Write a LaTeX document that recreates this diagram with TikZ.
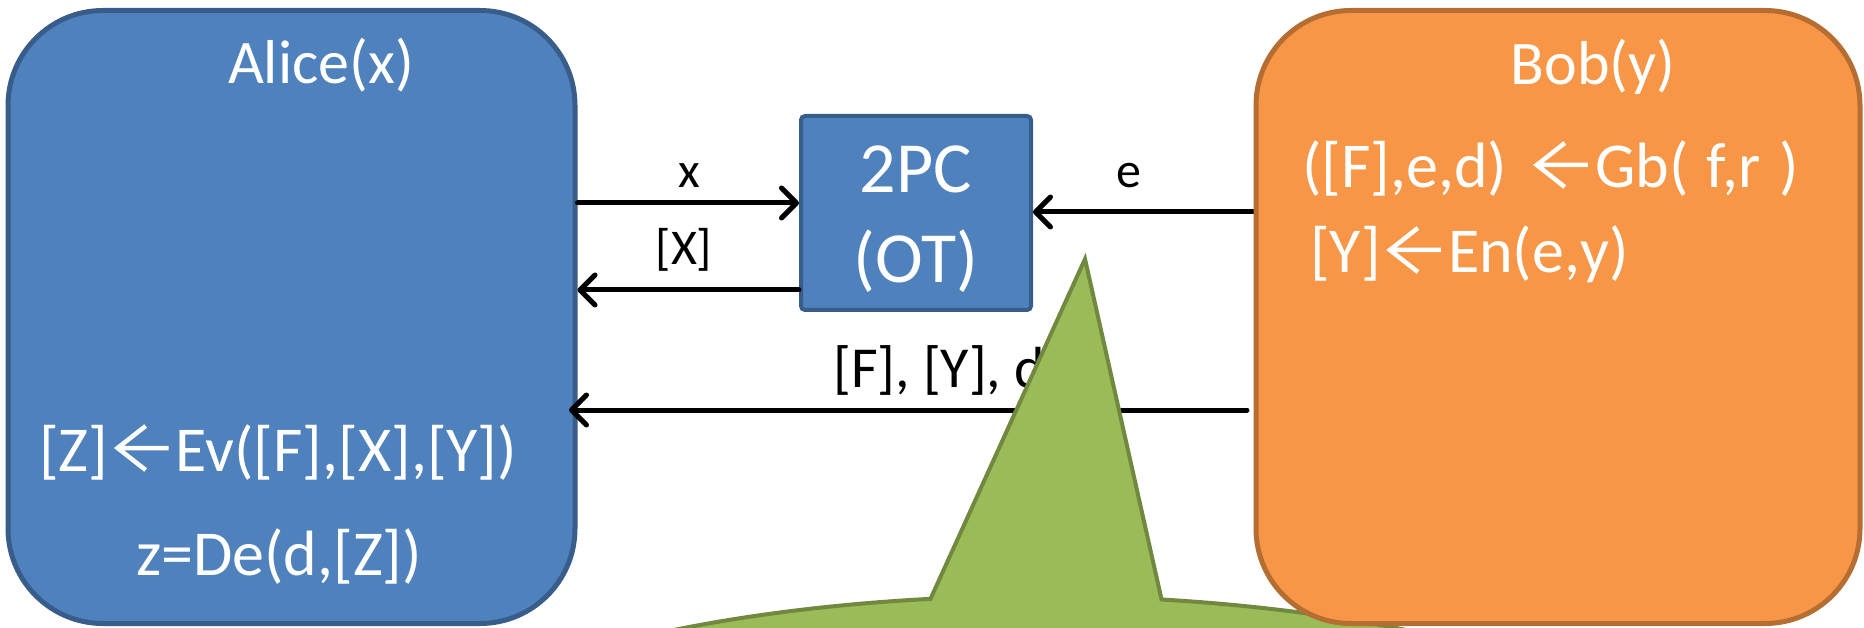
\documentclass[tikz,border=0pt]{standalone}
\usepackage{fontspec}
\setmainfont{Carlito}
\usetikzlibrary{arrows.meta}
\definecolor{cBlue}{HTML}{4F81BD}
\definecolor{cBlueD}{HTML}{385D8A}
\definecolor{cOrange}{HTML}{F79646}
\definecolor{cOrangeD}{HTML}{B66D31}
\definecolor{cGreen}{HTML}{9BBB59}
\definecolor{cGreenD}{HTML}{71893F}
\newcommand\myarrow{\hspace{7pt}\tikz[baseline=0pt,x=1pt,y=1pt]{\draw[white,line width=4.5pt,line cap=butt,line join=miter] (28,45)--(0,23)--(28,1) (1,23)--(51,23);}\hspace{5pt}}
\begin{document}
\begin{tikzpicture}[x=1pt,y=-1pt,
  box/.style={draw, line width=5pt, rounded corners=95pt, inner sep=0pt},
  wtext/.style={text=white, inner sep=0pt, font=\fontsize{62}{70}\selectfont},
  btext/.style={text=white, inner sep=0pt, font=\fontsize{64}{70}\selectfont},
  ltext/.style={text=black, inner sep=0pt, font=\fontsize{50}{60}\selectfont},
  arr/.style={line width=5pt, line cap=round, line join=round,
    -{Straight Barb[length=15pt, width=30pt, line cap=round, line join=round]}},
  callout/.style={fill=cGreen, draw=cGreenD, line width=4pt, line join=miter}]
\useasboundingbox (0,0) rectangle (1864,628);
\clip (0,0) rectangle (1864,628);
\fill[white] (0,0) rectangle (1864,628);

% Alice
\node[box, fill=cBlue, draw=cBlueD, minimum width=567pt, minimum height=613pt] (alice) at (291.5,317) {};
\node[wtext, anchor=base] (alicet) at (321,84) {Alice(x)};
\node[btext, anchor=base] (alice1) at (278,471) {[Z]\myarrow Ev([F],[X],[Y])};
\node[btext, anchor=base] (alice2) at (279,575) {z=De(d,[Z])};

% 2PC
\node[box, rounded corners=4pt, fill=cBlue, draw=cBlueD, line width=4pt, minimum width=230pt, minimum height=194pt] (ot) at (916,213) {};
\node[wtext, anchor=base, font=\fontsize{72}{80}\selectfont] (ot1) at (916,193) {2PC};
\node[wtext, anchor=base, font=\fontsize{72}{80}\selectfont] (ot2) at (916,283) {(OT)};

% arrows
\draw[arr] (alice.east |- 0,203) -- (ot.west |- 0,203);
\node[ltext, anchor=base] (lx) at (689,188) {x};
\draw[arr] (ot.west |- 0,290) -- (alice.east |- 0,290);
\node[ltext, anchor=base] (lX) at (684,265) {[X]};
\coordinate (estart) at (1256,212);
\draw[arr] (estart) -- (ot.east |- 0,212);
\node[ltext, anchor=base] (le) at (1129,188) {e};
\coordinate (bstart) at (1247,410);
\coordinate (aend) at (569,410);
\draw[arr] (bstart) -- (aend);
\node[ltext, anchor=base west, font=\fontsize{58}{66}\selectfont] (lfyd) at (833,388) {[F], [Y], d};

% green callout
\filldraw[callout] (1085,259) -- plot[domain=280:621, samples=240] ({1040+700*cos(\x)}, {826+230*sin(\x)}) -- cycle;

% Bob
\node[box, fill=cOrange, draw=cOrangeD, minimum width=604pt, minimum height=613pt] (bob) at (1558,317) {};
\node[wtext, anchor=base] (bobt) at (1593,85) {Bob(y)};
\node[btext, anchor=base west] (bob1) at (1302,188) {([F],e,d)\hspace{6pt} \myarrow Gb(\hspace{4pt} f,r\hspace{4pt} )};
\node[btext, anchor=base west] (bob2) at (1310,273) {[Y]\myarrow En(e,y)};
\end{tikzpicture}
\end{document}
